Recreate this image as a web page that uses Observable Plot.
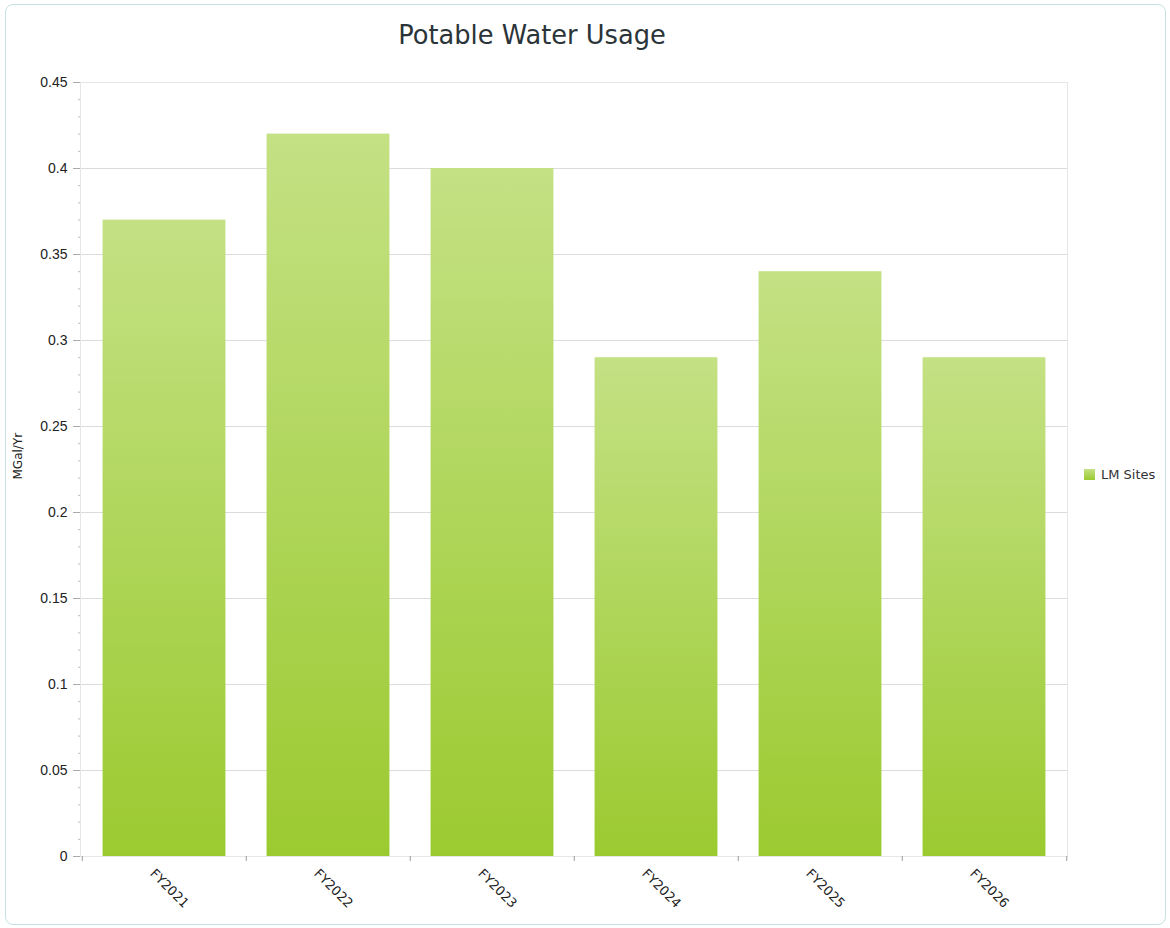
<!DOCTYPE html>
<html>
<head>
<meta charset="utf-8">
<script src="https://cdn.jsdelivr.net/npm/d3@7"></script>
<script src="https://cdn.jsdelivr.net/npm/@observablehq/plot@0.6"></script>
<style>
  html, body { margin: 0; padding: 0; background: #fff; }
  #wrap { position: relative; width: 1170px; height: 928px; overflow: hidden; }
  #border { position: absolute; left: 5px; top: 4px; width: 1159px; height: 919px; border: 1px solid #c6e2e2; border-radius: 8px; pointer-events: none; }
  #title { height: 60px; position: relative; }
  #title span { position: absolute; left: 532px; top: 35px; transform: translate(-50%, -50%); font-family: "DejaVu Sans", sans-serif; font-size: 25.7px; color: #2b3438; white-space: nowrap; }
  #legend { position: absolute; left: 1084px; top: 467px; font-family: "DejaVu Sans", sans-serif; font-size: 13px; color: #333; display: flex; align-items: center; gap: 6px; }
  #legend i { display: inline-block; width: 11px; height: 11px; background: linear-gradient(#c4e184, #9bca30); }
  svg { display: block; }
</style>
</head>
<body>
<div id="wrap">
  <div id="border"></div>
  <div id="title"><span>Potable Water Usage</span></div>
  <div id="chart"></div>
  <div id="legend"><i></i><span>LM Sites</span></div>
</div>
<script>
const categories = ["FY2021", "FY2022", "FY2023", "FY2024", "FY2025", "FY2026"];
const values = [0.37, 0.42, 0.40, 0.29, 0.34, 0.29];
const seriesName = "LM Sites";
const yTicks = [0, 0.05, 0.1, 0.15, 0.2, 0.25, 0.3, 0.35, 0.4, 0.45];
const yLabel = "MGal/Yr";

const data = categories.map((c, i) => ({category: c, value: values[i], series: seriesName}));
const minorTicks = d3.range(0, 46).map(i => i / 100).filter(v => !yTicks.some(t => Math.abs(t - v) < 1e-9));

const width = 1170, marginLeft = 80, marginRight = 103;
const bw = (width - marginLeft - marginRight) / categories.length;

const chart = Plot.plot({
  width,
  height: 868,
  marginLeft,
  marginRight,
  marginTop: 22,
  marginBottom: 72,
  style: {fontFamily: "DejaVu Sans, sans-serif", fontSize: "11px", color: "#333", background: "transparent"},
  x: {domain: categories, padding: 0, axis: null},
  y: {domain: [0, 0.45], axis: null},
  marks: [
    () => {
      const defs = d3.create("svg:defs");
      const g = defs.append("linearGradient").attr("id", "barGrad").attr("x1", 0).attr("y1", 0).attr("x2", 0).attr("y2", 1);
      g.append("stop").attr("offset", "0%").attr("stop-color", "#c4e184");
      g.append("stop").attr("offset", "100%").attr("stop-color", "#9bca30");
      return defs.node();
    },
    Plot.gridY(yTicks, {stroke: "#dcdcdc", strokeOpacity: 1}),
    Plot.frame({stroke: "#e6e6e6"}),
    Plot.barY(data, {x: "category", y: "value", fill: "url(#barGrad)", insetLeft: bw * 0.125, insetRight: bw * 0.125}),
    Plot.axisY(yTicks, {tickSize: 7, tickPadding: 6, tickFormat: d => String(d), stroke: "#aaa", fill: "#222", fontSize: 14, fontFamily: "Liberation Sans, Arial, sans-serif", label: null}),
    Plot.axisY(minorTicks, {tickSize: 2, tickFormat: () => "", stroke: "#bbb", label: null}),
    Plot.text([yLabel], {frameAnchor: "left", text: d => d, rotate: -90, dx: -62, dy: 10, fontSize: 12, fill: "#222"}),
    Plot.ruleX(categories, {x: d => d, y1: 0, y2: 0, dx: -bw / 2, insetBottom: -5, stroke: "#999"}),
    Plot.ruleX([categories[categories.length - 1]], {x: d => d, y1: 0, y2: 0, dx: bw / 2, insetBottom: -5, stroke: "#999"}),
    Plot.text(categories, {x: d => d, frameAnchor: "bottom", text: d => d, rotate: 45, dy: 35, dx: 2, textAnchor: "middle", fontSize: 13, fill: "#222"})
  ]
});
document.getElementById("chart").appendChild(chart);
</script>
</body>
</html>
